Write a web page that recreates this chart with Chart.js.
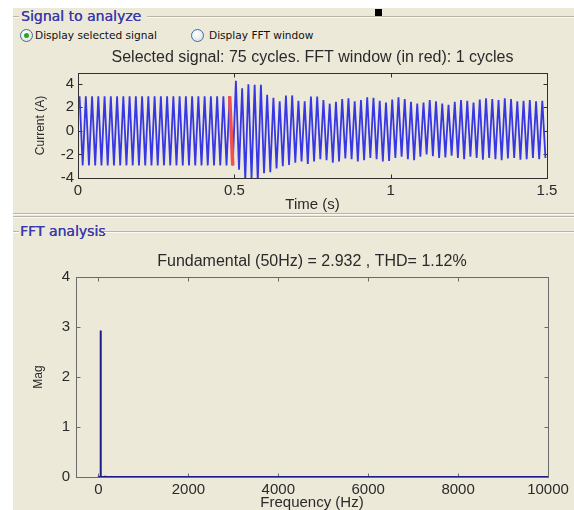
<!DOCTYPE html>
<html><head><meta charset="utf-8">
<script src="https://cdn.jsdelivr.net/npm/chart.js@4.4.1/dist/chart.umd.min.js"></script>
<style>
html,body{margin:0;padding:0;background:#fff;width:574px;height:510px;overflow:hidden;position:relative;}
#panel{position:absolute;left:13px;top:8px;width:561px;height:502px;background:#ece9d8;}
.grp{position:absolute;font:14px "DejaVu Sans",sans-serif;color:#3a3aac;line-height:16px;white-space:nowrap;text-shadow:0.3px 0 0 #3a3aac;}
.ln{position:absolute;height:1px;background:#b8b5a6;box-shadow:0 1px 0 #fbfaf5;}
.radio{position:absolute;width:11px;height:11px;border-radius:50%;border:1px solid #3d6e9e;background:radial-gradient(circle at 40% 35%,#ffffff,#dcdcd4);}
.dot{position:absolute;left:3px;top:3px;width:5px;height:5px;border-radius:50%;background:#2aa22a;}
.rl{position:absolute;font:10.6px "DejaVu Sans",sans-serif;color:#111;line-height:12px;white-space:nowrap;}
canvas{position:absolute;}
</style>
</head>
<body>
<div id="panel"></div>
<div class="ln" style="left:13px;top:16px;width:6px"></div>
<div class="grp" style="left:21px;top:8px">Signal to analyze</div>
<div class="ln" style="left:147px;top:16px;width:427px"></div>
<div style="position:absolute;left:375px;top:9px;width:7px;height:7px;background:#000"></div>
<div class="radio" style="left:20px;top:29px"><div class="dot"></div></div>
<div class="rl" style="left:35px;top:29px">Display selected signal</div>
<div class="radio" style="left:191px;top:29px"></div>
<div class="rl" style="left:209px;top:29px">Display FFT window</div>
<div class="ln" style="left:13px;top:213px;width:561px"></div>
<div class="ln" style="left:13px;top:216px;width:561px"></div>
<div class="ln" style="left:13px;top:231px;width:6px"></div>
<div class="grp" style="left:20px;top:223px">FFT analysis</div>
<div class="ln" style="left:104px;top:231px;width:470px"></div>
<canvas id="c1" width="561" height="170" style="left:13px;top:44px"></canvas>
<canvas id="c2" width="561" height="262" style="left:13px;top:250px"></canvas>
<script>
// ---- Signal (current, A): per-cycle positive peak and negative trough, 50 Hz, 75 cycles ----
const posPeaks = [
  2.93,2.93,2.93,2.93,2.93,2.93,2.93,2.93,2.93,2.93,
  2.93,2.93,2.93,2.93,2.93,2.93,2.93,2.93,2.93,2.93,
  2.93,2.93,2.93,2.93,2.93,
  4.25,3.60,3.95,3.90,3.90,3.05,2.80,2.50,3.00,3.00,
  2.55,2.50,2.90,2.90,2.60,2.30,2.45,2.70,2.75,2.50,
  2.60,2.85,2.80,2.55,2.40,2.65,2.85,2.70,2.45,2.30,
  2.40,2.60,2.50,2.30,2.20,2.45,2.60,2.55,2.40,2.65,
  2.75,2.70,2.60,2.75,2.70,2.50,2.55,2.60,2.50,2.55
];
const negPeaks = [
  -2.93,-2.93,-2.93,-2.93,-2.93,-2.93,-2.93,-2.93,-2.93,-2.93,
  -2.93,-2.93,-2.93,-2.93,-2.93,-2.93,-2.93,-2.93,-2.93,-2.93,
  -2.93,-2.93,-2.93,-2.93,-2.93,
  -3.30,-4.20,-4.00,-4.30,-3.60,-3.50,-3.20,-3.00,-2.90,-2.70,
  -2.60,-2.80,-2.60,-2.40,-2.50,-2.70,-2.60,-2.35,-2.40,-2.60,
  -2.50,-2.30,-2.40,-2.60,-2.55,-2.30,-2.20,-2.40,-2.50,-2.20,
  -2.00,-2.15,-2.30,-2.25,-2.10,-2.30,-2.40,-2.20,-2.30,-2.45,
  -2.30,-2.40,-2.50,-2.35,-2.30,-2.45,-2.40,-2.30,-2.40,-2.30
];
const fundamentalHz = 50;
const fftWindow = [0.48, 0.50];
const timeTicks = [0, 0.5, 1, 1.5];
const currentTicks = [-4, -2, 0, 2, 4];

// ---- FFT magnitude spectrum ----
const specFreq = [0, 50, 100, 150, 200, 250, 300, 350, 450, 550, 650, 10000];
const specMag  = [0.012, 2.932, 0.006, 0.024, 0.004, 0.014, 0.003, 0.010, 0.006, 0.004, 0.003, 0];
const freqTicks = [0, 2000, 4000, 6000, 8000, 10000];
const magTicks = [0, 1, 2, 3, 4];

const FONT = '"Liberation Sans", Arial, sans-serif';
const TXT = '#2a2a2a';
const period = 1 / fundamentalHz;
const wave = [];
posPeaks.forEach((p, k) => {
  wave.push({x: k * period + period / 4, y: p});
  wave.push({x: k * period + 3 * period / 4, y: negPeaks[k]});
});
const redPts = wave.filter(p => p.x >= fftWindow[0] && p.x <= fftWindow[1]);

const stems = [];
specFreq.forEach((f, i) => { stems.push({x: f, y: 0}, {x: f, y: specMag[i]}, {x: f, y: 0}); });

const boxPlugin = {
  id: 'box',
  beforeDatasetsDraw(chart, args, opts) {
    const {ctx, chartArea: a, scales: {x, y}} = chart;
    ctx.save();
    ctx.strokeStyle = opts.color; ctx.lineWidth = 1;
    const L = Math.round(a.left) + 0.5, R = Math.round(a.right) + 0.5, T = Math.round(a.top) + 0.5, B = Math.round(a.bottom) + 0.5;
    ctx.strokeRect(L, T, R - L, B - T);
    ctx.beginPath();
    x.ticks.forEach(t => { const px = Math.round(x.getPixelForValue(t.value)) + 0.5; ctx.moveTo(px, T); ctx.lineTo(px, T + 4); ctx.moveTo(px, B); ctx.lineTo(px, B - 4); });
    y.ticks.forEach(t => { const py = Math.round(y.getPixelForValue(t.value)) + 0.5; ctx.moveTo(L, py); ctx.lineTo(L + 4, py); ctx.moveTo(R, py); ctx.lineTo(R - 4, py); });
    ctx.stroke();
    ctx.restore();
  }
};

function axis(min, max, ticks, title, isX, size, titlePad, tickPad) {
  return {
    type: 'linear', min: min, max: max,
    afterBuildTicks: s => { s.ticks = ticks.map(v => ({value: v})); },
    grid: {display: false, drawTicks: false},
    border: {display: false},
    ticks: {font: {family: FONT, size: 15}, color: TXT, padding: tickPad, maxRotation: 0, autoSkip: false, callback: v => String(v)},
    title: {display: true, text: title, font: {family: FONT, size: isX ? 15 : 12}, color: TXT, padding: titlePad},
    afterFit: s => { if (isX) s.height = size; else s.width = size; }
  };
}

new Chart(document.getElementById('c1'), {
  type: 'line',
  data: {datasets: [
    {data: wave, borderColor: 'rgb(55,55,228)', borderWidth: 1.8, pointRadius: 0, tension: 0, order: 2},
    {data: redPts, borderColor: 'rgb(240,80,80)', borderWidth: 3.5, pointRadius: 0, tension: 0, order: 1}
  ]},
  options: {
    responsive: false, animation: false, events: [],
    layout: {padding: {left: 0, right: 27, top: 0, bottom: 0}},
    plugins: {
      legend: {display: false}, tooltip: {enabled: false},
      title: {display: true, fullSize: false, text: 'Selected signal: 75 cycles. FFT window (in red): 1 cycles', font: {family: FONT, size: 16, weight: 'normal'}, color: TXT, padding: {top: 4.4, bottom: 5.4}},
      box: {color: '#303030'}
    },
    scales: {
      x: axis(0, 1.5, timeTicks, 'Time (s)', true, 36, {top: 0, bottom: 0}, 4),
      y: axis(-4, 4.9, currentTicks, 'Current (A)', false, 65, {top: 20, bottom: 0}, 4)
    }
  },
  plugins: [boxPlugin]
});

new Chart(document.getElementById('c2'), {
  type: 'line',
  data: {datasets: [
    {data: stems, borderColor: 'rgb(28,28,140)', borderWidth: 2, pointRadius: 0, tension: 0}
  ]},
  options: {
    responsive: false, animation: false, events: [],
    layout: {padding: {left: 0, right: 26, top: 0, bottom: 0}},
    plugins: {
      legend: {display: false}, tooltip: {enabled: false},
      title: {display: true, fullSize: false, text: 'Fundamental (50Hz) = 2.932 , THD= 1.12%', font: {family: FONT, size: 16, weight: 'normal'}, color: TXT, padding: {top: 2.4, bottom: 5.4}},
      box: {color: '#6a6a6a'}
    },
    scales: {
      x: axis(-500, 10000, freqTicks, 'Frequency (Hz)', true, 35, {top: 0, bottom: 0}, 4),
      y: axis(0, 4, magTicks, 'Mag', false, 63, {top: 18, bottom: 0}, 6)
    }
  },
  plugins: [boxPlugin]
});
</script>
</body></html>
